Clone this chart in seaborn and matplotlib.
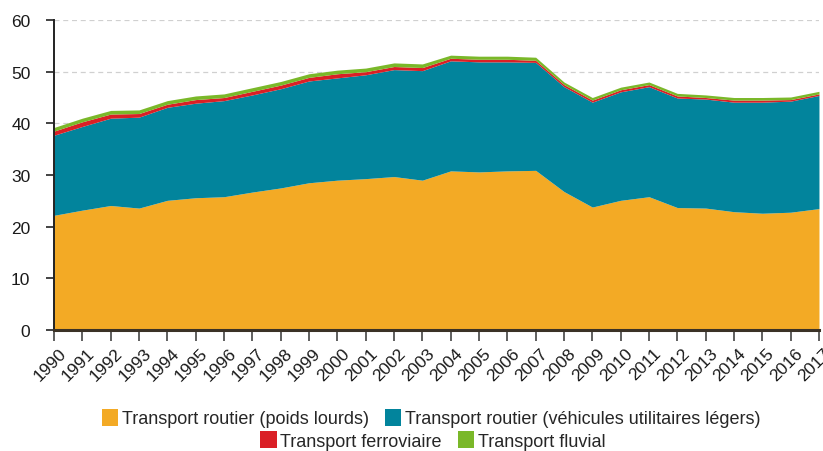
"""Freight transport emissions by mode, stacked area, 1990-2017."""

import matplotlib.pyplot as plt
import matplotlib.patches as mpatches
import matplotlib.transforms as mtransforms
import pandas as pd
import seaborn as sns

years = list(range(1990, 2018))

poids_lourds = [22.2, 23.2, 24.1, 23.6, 25.1, 25.6, 25.8, 26.7, 27.5, 28.5,
                29.0, 29.3, 29.7, 29.0, 30.8, 30.6, 30.8, 30.9, 26.8, 23.8,
                25.1, 25.8, 23.7, 23.6, 22.9, 22.6, 22.8, 23.5]
vul = [15.5, 16.2, 16.9, 17.6, 18.0, 18.3, 18.6, 18.8, 19.2, 19.7,
       19.8, 20.1, 20.7, 21.2, 21.3, 21.3, 21.1, 20.9, 20.3, 20.3,
       21.0, 21.3, 21.2, 21.1, 21.2, 21.5, 21.5, 21.9]
ferroviaire = [0.8, 0.9, 0.8, 0.7, 0.6, 0.7, 0.6, 0.7, 0.7, 0.7,
               0.8, 0.6, 0.6, 0.6, 0.5, 0.5, 0.5, 0.4, 0.4, 0.4,
               0.4, 0.4, 0.4, 0.3, 0.4, 0.4, 0.3, 0.3]
fluvial = [0.7, 0.7, 0.7, 0.7, 0.7, 0.7, 0.7, 0.7, 0.7, 0.7,
           0.7, 0.7, 0.7, 0.7, 0.6, 0.6, 0.6, 0.6, 0.5, 0.5,
           0.5, 0.5, 0.5, 0.5, 0.5, 0.5, 0.5, 0.5]

labels = [
    "Transport routier (poids lourds)",
    "Transport routier (véhicules utilitaires légers)",
    "Transport ferroviaire",
    "Transport fluvial",
]
colors = ["#F3AA25", "#02849C", "#DA1F26", "#7AB829"]

df = pd.DataFrame({
    "annee": years,
    labels[0]: poids_lourds,
    labels[1]: vul,
    labels[2]: ferroviaire,
    labels[3]: fluvial,
})

sns.set_theme(style="white")
plt.rcParams["font.family"] = ["Liberation Sans", "DejaVu Sans"]

fig = plt.figure(figsize=(8.23, 4.52), dpi=100)
ax = fig.add_axes([0.0656, 0.2677, 0.9295, 0.6858])

ax.stackplot(df["annee"], [df[c] for c in labels], colors=colors,
             linewidth=0, zorder=2)

ax.set_xlim(1990, 2017)
ax.set_ylim(0, 60)
ax.set_yticks(range(0, 61, 10))
ax.set_xticks(years)
ax.yaxis.grid(True, linestyle=(0, (4, 3)), color="#d0d0d0", linewidth=0.9, zorder=0)
ax.set_axisbelow(True)

for side in ["top", "right"]:
    ax.spines[side].set_visible(False)
ax.spines["left"].set_color("#222222")
ax.spines["left"].set_linewidth(1.4)
ax.spines["bottom"].set_color("#3b3226")
ax.spines["bottom"].set_linewidth(2.2)
ax.spines["left"].set_zorder(3)
ax.spines["bottom"].set_zorder(3)

ax.tick_params(axis="y", which="both", left=True, length=6, width=1.2, color="#222222",
               labelsize=12.5, labelcolor="#1a1a1a", pad=11)
ax.tick_params(axis="x", which="both", bottom=True, length=8, width=1.2, color="#444444",
               labelsize=12.5, labelcolor="#1a1a1a", pad=3)
# nudge the rotated year labels slightly right of their ticks
shift = mtransforms.ScaledTranslation(3 / 72, 0, fig.dpi_scale_trans)
for lbl in ax.get_xticklabels():
    lbl.set_rotation(45)
    lbl.set_ha("right")
    lbl.set_va("top")
    lbl.set_rotation_mode("anchor")
    lbl.set_transform(lbl.get_transform() + shift)
ax.set_xlabel("")
ax.set_ylabel("")

handles = [mpatches.Patch(facecolor=c, edgecolor="none") for c in colors]
leg_kw = dict(frameon=False, fontsize=13, handlelength=0.9, handleheight=1.1,
              handletextpad=0.2, columnspacing=0.9, borderaxespad=0, borderpad=0)
fig.legend(handles[:2], labels[:2], ncol=2, loc="center",
           bbox_to_anchor=(0.524, 0.073), **leg_kw)
fig.legend(handles[2:], labels[2:], ncol=2, loc="center",
           bbox_to_anchor=(0.526, 0.024), **leg_kw)

plt.savefig("out.png", dpi=100)
plt.close()
